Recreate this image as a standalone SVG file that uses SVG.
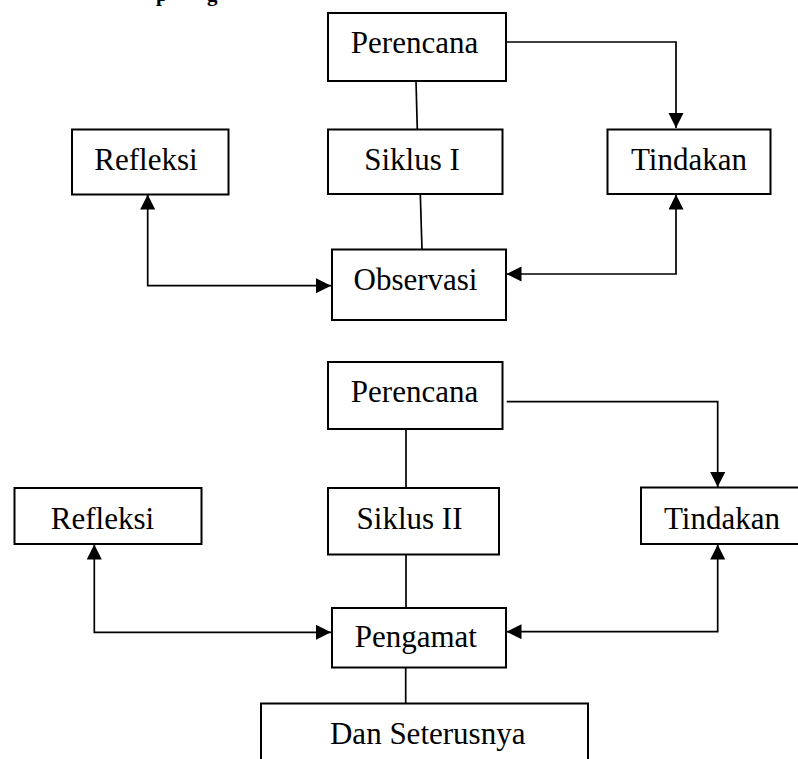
<svg xmlns="http://www.w3.org/2000/svg" width="798" height="759" viewBox="0 0 798 759">
<style>
.box{fill:#fff;stroke:#000;stroke-width:2}
.lbl{font-family:"Liberation Serif","Times New Roman",serif;font-size:31px;fill:#000;text-anchor:middle}
.title{font-family:"Liberation Serif","Times New Roman",serif;font-size:21px;font-weight:bold;fill:#000}
.ln{fill:none;stroke:#000;stroke-width:1.7}
.arr{marker-end:url(#ah)}
.bi{marker-start:url(#ah);marker-end:url(#ah)}
</style>
<defs>
<marker id="ah" markerUnits="userSpaceOnUse" markerWidth="16" markerHeight="16" refX="15" refY="7.5" orient="auto-start-reverse">
<path d="M0,0 L15,7.5 L0,15 Z" fill="#000"/>
</marker>
</defs>
<rect width="798" height="759" fill="#fff"/>
<text class="title" y="0.5"><tspan x="156">p</tspan><tspan x="207">g</tspan></text>

<g id="connectors">
<polyline class="ln arr" points="506,42 676,42 676,128"/>
<line class="ln" x1="416" y1="81" x2="417.3" y2="129.5"/>
<line class="ln" x1="420.3" y1="194" x2="422" y2="249.5"/>
<polyline class="ln bi" points="676,194.5 676,274 506.5,274"/>
<polyline class="ln bi" points="147.7,194.5 147.7,285.7 331,285.7"/>

<polyline class="ln arr" points="506.7,401.7 717.7,401.7 717.7,487"/>
<line class="ln" x1="406" y1="429" x2="406" y2="488"/>
<line class="ln" x1="406" y1="554.5" x2="406" y2="608"/>
<polyline class="ln bi" points="717.7,544.5 717.7,631.7 506.5,631.7"/>
<polyline class="ln bi" points="94.3,544.5 94.3,632.3 331,632.3"/>
<line class="ln" x1="405.7" y1="667.5" x2="405.7" y2="703.5"/>
</g>

<g id="perencana1"><rect class="box" x="328" y="13" width="178" height="68"/><text class="lbl" x="414.5" y="53">Perencana</text></g>
<g id="siklus1"><rect class="box" x="328" y="129.5" width="174.5" height="64.5"/><text class="lbl" x="412" y="170">Siklus I</text></g>
<g id="tindakan1"><rect class="box" x="607.5" y="129.5" width="163" height="64.5"/><text class="lbl" x="689" y="170">Tindakan</text></g>
<g id="refleksi1"><rect class="box" x="72" y="129.5" width="156.5" height="65"/><text class="lbl" x="146" y="170">Refleksi</text></g>
<g id="observasi"><rect class="box" x="332" y="249.5" width="174" height="70.5"/><text class="lbl" x="415.5" y="289.5">Observasi</text></g>

<g id="perencana2"><rect class="box" x="328" y="362" width="174.5" height="67"/><text class="lbl" x="414.5" y="402.3">Perencana</text></g>
<g id="siklus2"><rect class="box" x="328" y="488" width="171" height="66.5"/><text class="lbl" x="409.5" y="529">Siklus II</text></g>
<g id="tindakan2"><rect class="box" x="641" y="487.5" width="162" height="56.5"/><text class="lbl" x="722" y="529">Tindakan</text></g>
<g id="refleksi2"><rect class="box" x="14.5" y="488" width="187" height="56"/><text class="lbl" x="102.5" y="529">Refleksi</text></g>
<g id="pengamat"><rect class="box" x="332" y="608" width="174" height="59.5"/><text class="lbl" x="415.8" y="647">Pengamat</text></g>
<g id="dan-seterusnya"><rect class="box" x="261" y="703.5" width="327" height="70"/><text class="lbl" x="427.7" y="744">Dan Seterusnya</text></g>
</svg>
